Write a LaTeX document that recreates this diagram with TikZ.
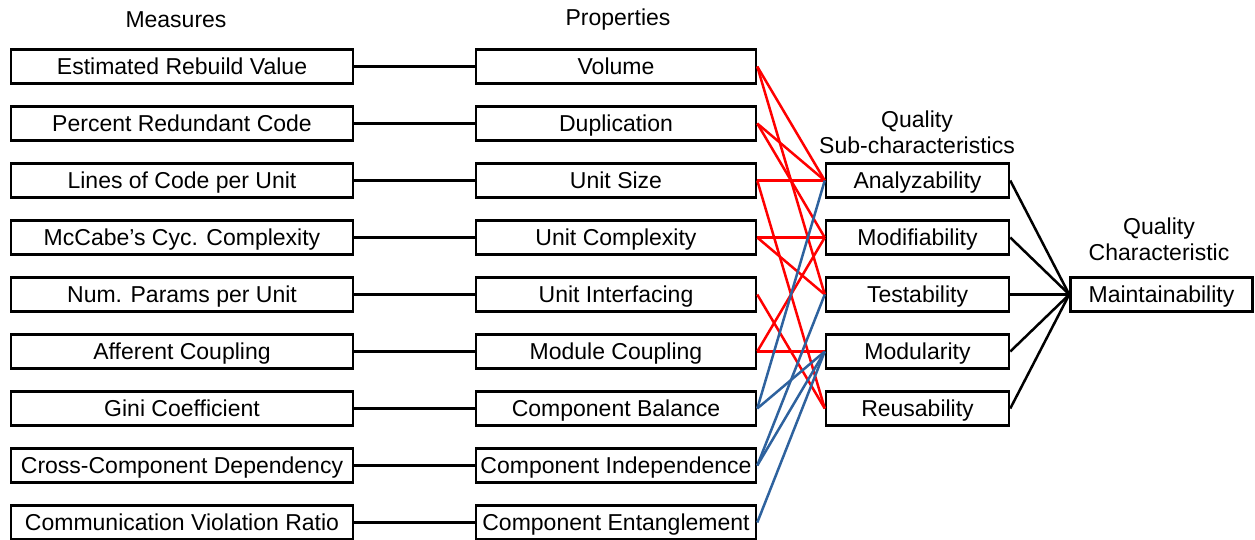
\documentclass[tikz,border=0pt]{standalone}
\usepackage{fontspec}
\setmainfont{Liberation Sans}
\definecolor{linkred}{RGB}{255,0,0}
\definecolor{linkblue}{RGB}{46,98,158}
\begin{document}
\begin{tikzpicture}[x=1pt,y=-1pt,
  box/.style={draw=black, line width=2.5pt, inner sep=0pt, minimum height=34pt, text height=16.5pt, text depth=0pt, font=\fontsize{23}{27}\selectfont},
  mbox/.style={box, minimum width=342pt},
  pbox/.style={box, minimum width=280pt},
  qbox/.style={box, minimum width=183pt},
  cbox/.style={box, minimum width=182pt},
  head/.style={inner sep=0pt, align=center, font=\fontsize{23}{26}\selectfont},
  blk/.style={draw=black, line width=2.5pt},
  rlink/.style={draw=linkred, line width=2.5pt},
  blink/.style={draw=linkblue, line width=2.5pt}]
\useasboundingbox (0,0) rectangle (1255,540);

\node[head] (hm) at (176,20) {Measures};
\node[head] (hp) at (618,20) {Properties};
\node[head] (hq) at (917,132) {Quality\\Sub-characteristics};
\node[head] (hc) at (1159,239.5) {Quality\\Characteristic};

\foreach \i/\t in {1/Estimated Rebuild Value, 2/Percent Redundant Code, 3/Lines of Code per Unit,
  4/McCabe's Cyc. Complexity, 5/Num. Params per Unit, 6/Afferent Coupling, 7/Gini Coefficient,
  8/Cross-Component Dependency, 9/Communication Violation Ratio}
  \node[mbox] (m\i) at (182,{66.5+57*(\i-1)}) {\t};

\foreach \i/\t in {1/Volume, 2/Duplication, 3/Unit Size, 4/Unit Complexity, 5/Unit Interfacing,
  6/Module Coupling, 7/Component Balance, 8/Component Independence, 9/Component Entanglement}
  \node[pbox] (p\i) at (616,{66.5+57*(\i-1)}) {\t};

\foreach \i/\t in {1/Analyzability, 2/Modifiability, 3/Testability, 4/Modularity, 5/Reusability}
  \node[qbox] (q\i) at (917.5,{180.5+57*(\i-1)}) {\t};

\node[cbox] (mt) at (1161.5,294.5) {Maintainability};

\foreach \i in {1,...,9}
  \draw[blk] (m\i.east) -- (p\i.west);

\foreach \a/\b in {1/1, 1/3, 2/1, 2/2, 3/1, 3/5, 4/2, 4/3, 5/5, 6/2, 6/4}
  \draw[rlink] (p\a.east) -- (q\b.west);

\foreach \a/\b in {7/1, 7/4, 8/3, 8/4, 9/4}
  \draw[blink] (p\a.east) -- (q\b.west);

\foreach \i in {1,...,5}
  \draw[blk] (q\i.east) -- (mt.west);
\end{tikzpicture}
\end{document}
